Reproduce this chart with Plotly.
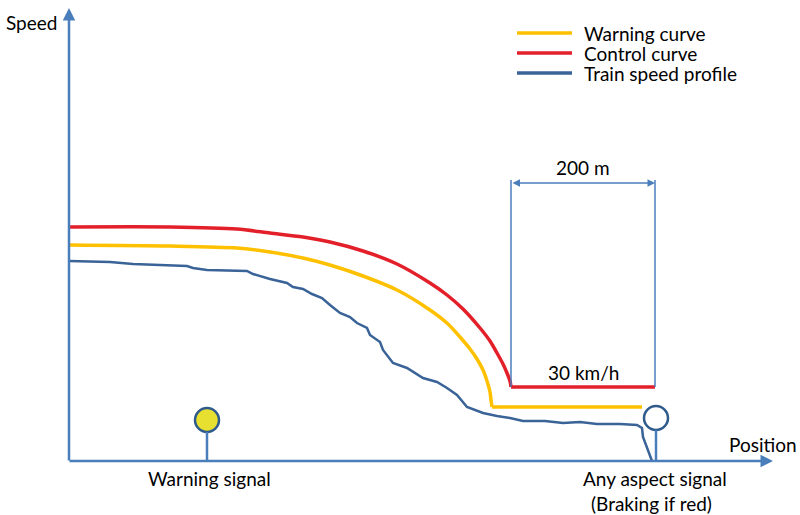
import plotly.graph_objects as go

# diagram drawn in pixel-like units: x to the right, y downward
font_family = "Lato"
font_size = 19
axis_color = "#4A7EBB"
signal_edge = "#2F5B8C"

## -- CURVES (last two points of control / warning are the flat 30 km/h part)

control_x = [69, 170, 237, 270, 303, 330, 363, 397, 430, 447, 463, 480, 490, 497,
             503, 507, 510, 511, 655]
control_y = [227, 227, 229, 233, 237, 242, 251, 264, 283, 295, 309, 328, 341, 353,
             364, 373, 381, 387, 387]

warning_x = [69, 170, 237, 270, 303, 330, 363, 397, 430, 448, 460, 470, 477, 483,
             487, 490, 491, 492, 642]
warning_y = [245, 246, 248, 252, 258, 265, 276, 290, 310, 324, 337, 349, 359, 370,
             381, 392, 400, 407, 407]

profile_x = [69, 110, 133, 170, 187, 193, 207, 247, 253, 270, 287, 293, 303, 312,
             322, 330, 340, 350, 357, 367, 370, 380, 383, 393, 407, 423, 437, 447,
             457, 467, 483, 497, 510, 523, 545, 563, 580, 597, 620, 637, 642, 643,
             647, 652]
profile_y = [261, 262, 264, 265, 266, 268, 270, 271, 274, 279, 283, 287, 289, 294,
             298, 305, 313, 317, 323, 328, 335, 342, 350, 363, 368, 378, 382, 388,
             395, 407, 413, 416, 418, 421, 421, 423, 422, 424, 424, 425, 428, 437,
             447, 461]

## -- SIGNALS

signal_x = [207, 656]
signal_y = [420, 418]
signal_fill = ["#E8E030", "white"]
stem_top = [432, 430]

## -- LEGEND

legend_names = ["Warning curve", "Control curve", "Train speed profile"]
legend_colors = ["#FFC000", "#E3202A", "#3A6397"]
legend_y = [33, 53, 73]

fig = go.Figure()

# braking curves: smooth part + straight 30 km/h part
for cx, cy, col in [(warning_x, warning_y, legend_colors[0]), (control_x, control_y, legend_colors[1])]:
    fig.add_trace(go.Scatter(x=cx[:-1], y=cy[:-1], mode="lines",
                             line=dict(color=col, width=3.5, shape="spline", smoothing=0.8),
                             hoverinfo="skip"))
    fig.add_trace(go.Scatter(x=cx[-2:], y=cy[-2:], mode="lines",
                             line=dict(color=col, width=3.5),
                             hoverinfo="skip"))

fig.add_trace(go.Scatter(x=profile_x, y=profile_y, mode="lines",
                         line=dict(color=legend_colors[2], width=2.5),
                         hoverinfo="skip"))

# axes with arrows
fig.add_annotation(x=69, y=8, ax=69, ay=462, xref="x", yref="y", axref="x", ayref="y",
                   showarrow=True, arrowhead=2, arrowsize=1, arrowwidth=2.5,
                   arrowcolor=axis_color, text="")
fig.add_annotation(x=773, y=461, ax=68, ay=461, xref="x", yref="y", axref="x", ayref="y",
                   showarrow=True, arrowhead=2, arrowsize=1, arrowwidth=2.5,
                   arrowcolor=axis_color, text="")

# 200 m box
fig.add_shape(type="line", x0=511, x1=511, y0=180, y1=387, line=dict(color=axis_color, width=1.5))
fig.add_shape(type="line", x0=655, x1=655, y0=180, y1=387, line=dict(color=axis_color, width=1.5))
fig.add_annotation(x=655, y=183, ax=511, ay=183, xref="x", yref="y", axref="x", ayref="y",
                   showarrow=True, arrowhead=2, startarrowhead=2, arrowside="end+start",
                   arrowsize=1, arrowwidth=1.5, arrowcolor=axis_color, text="")

# signal stems and heads
for sx, top in zip(signal_x, stem_top):
    fig.add_shape(type="line", x0=sx, x1=sx, y0=top, y1=461, line=dict(color=axis_color, width=2.5))
fig.add_trace(go.Scatter(x=signal_x, y=signal_y, mode="markers",
                         marker=dict(size=24, color=signal_fill, line=dict(color=signal_edge, width=2.5)),
                         hoverinfo="skip"))

# legend drawn by hand
for name, col, ly in zip(legend_names, legend_colors, legend_y):
    fig.add_shape(type="line", x0=517, x1=572, y0=ly, y1=ly, line=dict(color=col, width=3.5))
    fig.add_annotation(x=582, y=ly, text=name, showarrow=False, xanchor="left", yanchor="middle")

labels = [
    ("Speed", 31, 22),
    ("Position", 763, 444),
    ("200 m", 583, 167),
    ("30 km/h", 583, 372),
    ("Warning signal", 209, 478),
    ("Any aspect signal", 655, 478),
    ("(Braking if red)", 651, 503),
]
for txt, tx, ty in labels:
    fig.add_annotation(x=tx, y=ty, text=txt, showarrow=False, xanchor="center", yanchor="middle")

fig.update_annotations(font=dict(family=font_family, size=font_size, color="black"))

fig.update_layout(
    width=800, height=515,
    margin=dict(l=0, r=0, t=0, b=0),
    showlegend=False,
    plot_bgcolor="white", paper_bgcolor="white",
    xaxis=dict(range=[0, 800], visible=False, fixedrange=True),
    yaxis=dict(range=[515, 0], visible=False, fixedrange=True),
)

# the page body has a default margin that would push the figure off-window
fig.write_html("out.html", config={"displayModeBar": False},
               post_script="document.body.style.margin='0';")
